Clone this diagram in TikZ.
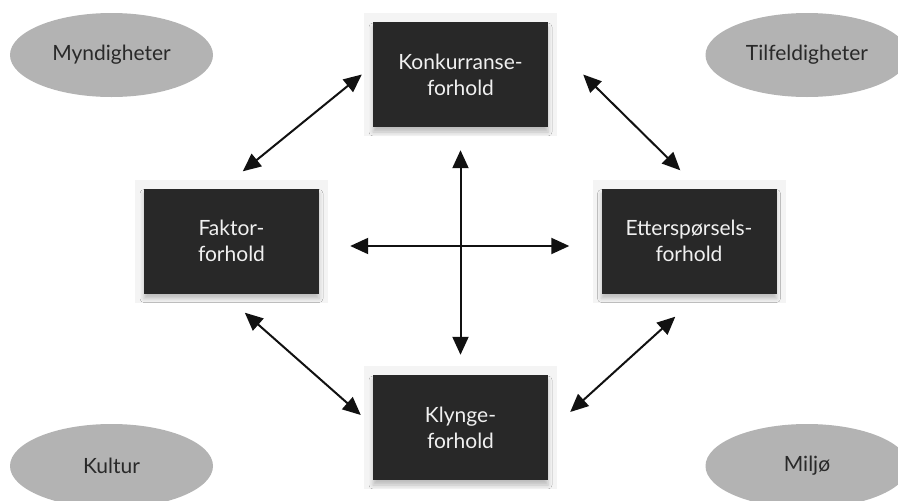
\documentclass[tikz,border=0pt]{standalone}
\usepackage{fontspec}
\setmainfont{Lato}
\usetikzlibrary{arrows.meta,shapes.geometric,shadows.blur}

\definecolor{boxdark}{HTML}{282828}
\definecolor{halogrey}{HTML}{F4F4F4}
\definecolor{ellgrey}{HTML}{B3B3B3}
\definecolor{inkblack}{HTML}{111111}

\tikzset{
  forholdbox/.style={rectangle, fill=boxdark, text=white!94!black,
    minimum width=175pt, minimum height=105pt, inner sep=0pt, align=center,
    font=\fontsize{21}{26}\selectfont,
    preaction={draw=halogrey, line width=18pt},
    blur shadow={shadow xshift=0pt, shadow yshift=-5pt,
      shadow blur radius=4pt, shadow opacity=22}},
  miljoell/.style={ellipse, fill=ellgrey, text=inkblack!90!white,
    minimum width=203pt, minimum height=84pt, inner sep=0pt,
    font=\fontsize{21}{24}\selectfont},
  biarrow/.style={draw=inkblack, line width=2pt,
    {Triangle[length=18pt,width=16pt]}-{Triangle[length=18pt,width=16pt]}}
}

\begin{document}
\begin{tikzpicture}[x=1pt,y=-1pt]
\useasboundingbox (0,0) rectangle (898,501);
\clip (0,0) rectangle (898,501);

% surrounding factors
\node[miljoell] (myndig) at (111.5,55) {Myndigheter};
\node[miljoell] (tilfeld) at (807,55) {Tilfeldigheter};
\node[miljoell] (kultur) at (111.5,466) {Kultur};
\node[miljoell] (miljo) at (807,466) {Miljø};

% the four conditions
\node[forholdbox] (konk) at (460.5,74.5) {Konkurranse-\\forhold};
\node[forholdbox] (faktor) at (231.5,241) {Faktor-\\forhold};
\node[forholdbox] (etter) at (689,241) {Etterspørsels-\\forhold};
\node[forholdbox] (klynge) at (460.5,427.5) {Klynge-\\forhold};

% links round the diamond
\draw[biarrow] ([xshift=-11pt]konk.west) -- ([xshift=99pt,yshift=17pt]faktor.north west);
\draw[biarrow] ([xshift=35pt]konk.east) -- ([xshift=79pt,yshift=18pt]etter.north west);
\draw[biarrow] ([xshift=101pt,yshift=-19pt]faktor.south west) -- ([xshift=-12pt,yshift=12.5pt]klynge.west);
\draw[biarrow] ([xshift=74pt,yshift=-23pt]etter.south west) -- ([xshift=22pt,yshift=15.5pt]klynge.east);
% cross in the middle
\draw[biarrow] ([yshift=-23pt]konk.south) -- ([yshift=20pt]klynge.north);
\draw[biarrow] ([xshift=31pt,yshift=-5pt]faktor.east) -- ([xshift=-32pt,yshift=-5pt]etter.west);

\end{tikzpicture}
\end{document}
